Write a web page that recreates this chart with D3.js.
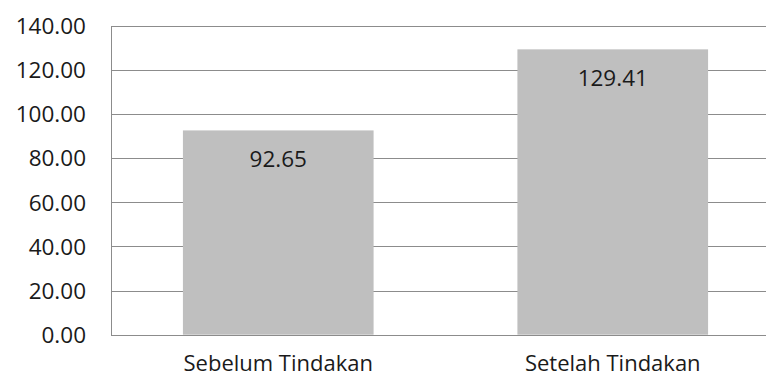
<!DOCTYPE html>
<html>
<head>
<meta charset="utf-8">
<script src="https://cdn.jsdelivr.net/npm/d3@7"></script>
<style>
  body { margin: 0; background: #fff; overflow: hidden; }
  text { font-family: "Open Sans", sans-serif; fill: #1a1a1a; }
</style>
</head>
<body>
<script>
var w = 766;
var h = 378;

var categories = ["Sebelum Tindakan", "Setelah Tindakan"];
var values = [92.65, 129.41];
var yTicks = [0, 20, 40, 60, 80, 100, 120, 140];

var margin = {top: 26, left: 111, bottom: 43.3};
var plotRight = 780; // plot runs past the right edge of the picture

var svg = d3.select("body")
  .append("svg")
    .attr("width", w)
    .attr("height", h);

var x = d3.scaleBand()
  .domain(categories)
  .range([margin.left, plotRight])
  .paddingInner(0.43)
  .paddingOuter(0.215);

var y = d3.scaleLinear()
  .domain([0, 140])
  .range([h - margin.bottom, margin.top]);

// gridlines
svg.selectAll("line.grid")
  .data(yTicks)
  .enter()
  .append("line")
    .attr("class", "grid")
    .attr("x1", margin.left)
    .attr("x2", plotRight)
    .attr("y1", function(d) { return Math.round(y(d)) + 0.5; })
    .attr("y2", function(d) { return Math.round(y(d)) + 0.5; })
    .attr("stroke", "#8c8c8c")
    .attr("stroke-width", 1);

// left axis line
svg.append("line")
  .attr("x1", margin.left + 0.5)
  .attr("x2", margin.left + 0.5)
  .attr("y1", Math.round(y(140)))
  .attr("y2", Math.round(y(0)) + 1)
  .attr("stroke", "#8c8c8c");

// y tick labels
svg.selectAll("text.ytick")
  .data(yTicks)
  .enter()
  .append("text")
    .attr("class", "ytick")
    .attr("x", 86)
    .attr("y", function(d) { return y(d); })
    .attr("dy", "0.36em")
    .attr("text-anchor", "end")
    .style("font-size", "22.5px")
    .text(function(d) { return d3.format(".2f")(d); });

// bars
svg.selectAll("rect.bar")
  .data(values)
  .enter()
  .append("rect")
    .attr("class", "bar")
    .attr("x", function(d, i) { return x(categories[i]); })
    .attr("y", function(d) { return y(d); })
    .attr("width", x.bandwidth())
    .attr("height", function(d) { return y(0) - y(d); })
    .attr("fill", "#bfbfbf");

// value labels
svg.selectAll("text.val")
  .data(values)
  .enter()
  .append("text")
    .attr("class", "val")
    .attr("x", function(d, i) { return x(categories[i]) + x.bandwidth() / 2; })
    .attr("y", function(d) { return y(d) + 37; })
    .attr("text-anchor", "middle")
    .style("font-size", "22.5px")
    .text(function(d) { return d3.format(".2f")(d); });

// category labels
svg.selectAll("text.cat")
  .data(categories)
  .enter()
  .append("text")
    .attr("class", "cat")
    .attr("x", function(d) { return x(d) + x.bandwidth() / 2; })
    .attr("y", 371)
    .attr("text-anchor", "middle")
    .style("font-size", "22px")
    .text(function(d) { return d; });
</script>
</body>
</html>
